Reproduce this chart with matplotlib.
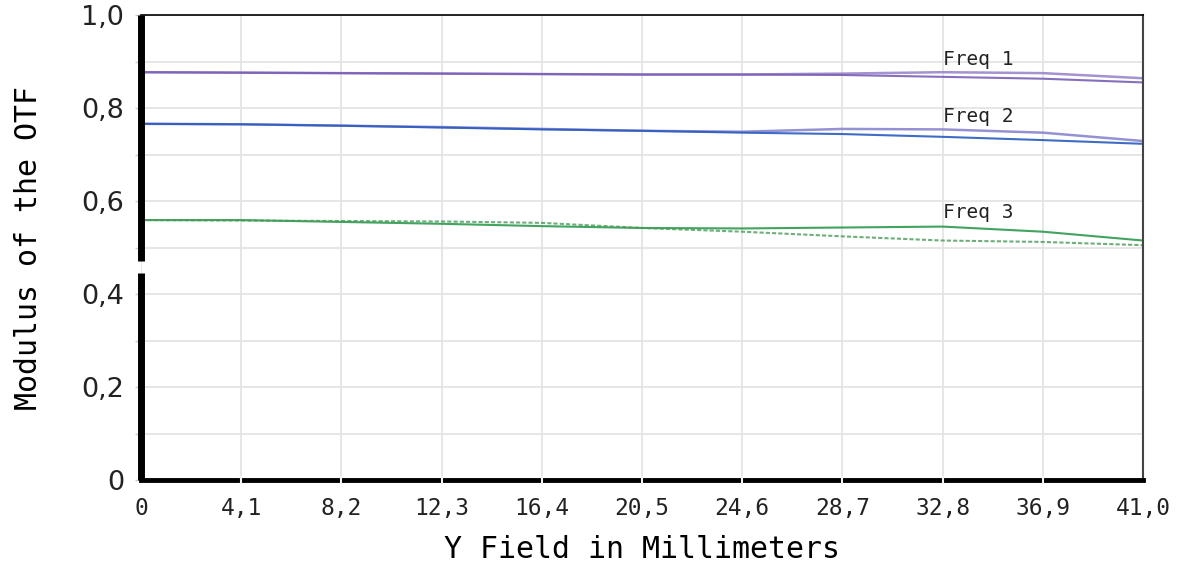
import numpy as np
import matplotlib.pyplot as plt

# field positions (mm)
field = [0, 4.1, 8.2, 12.3, 16.4, 20.5, 24.6, 28.7, 32.8, 36.9, 41.0]

# Freq 1
f1_a = [0.877, 0.876, 0.875, 0.874, 0.873, 0.872, 0.872, 0.874, 0.877, 0.875, 0.864]
f1_b = [0.877, 0.876, 0.875, 0.874, 0.873, 0.872, 0.872, 0.871, 0.867, 0.863, 0.855]
# Freq 2
f2_a = [0.766, 0.765, 0.762, 0.759, 0.755, 0.751, 0.749, 0.755, 0.754, 0.747, 0.729]
f2_b = [0.766, 0.765, 0.762, 0.758, 0.754, 0.751, 0.747, 0.744, 0.738, 0.731, 0.723]
# Freq 3
f3_solid = [0.559, 0.559, 0.555, 0.551, 0.546, 0.542, 0.541, 0.543, 0.545, 0.534, 0.515]
f3_dot = [0.559, 0.558, 0.557, 0.556, 0.553, 0.542, 0.534, 0.524, 0.515, 0.512, 0.505]

xticks = [0, 4.1, 8.2, 12.3, 16.4, 20.5, 24.6, 28.7, 32.8, 36.9, 41.0]
xticklabels = ['0', '4,1', '8,2', '12,3', '16,4', '20,5', '24,6', '28,7', '32,8', '36,9', '41,0']
yticks = [0, 0.2, 0.4, 0.6, 0.8, 1.0]
yticklabels = ['0', '0,2', '0,4', '0,6', '0,8', '1,0']

fig = plt.figure(figsize=(11.82, 5.64), dpi=100)
ax = fig.add_axes([0.1193, 0.1489, 0.967 - 0.1193, 0.9734 - 0.1489])

ax.plot(field, f1_a, color='#9a86cc', lw=1.8, alpha=0.9)
ax.plot(field, f1_b, color='#7a5fb6', lw=1.5, alpha=0.9)
ax.plot(field, f2_a, color='#8a86d0', lw=1.8, alpha=0.9)
ax.plot(field, f2_b, color='#2a5cbf', lw=1.5, alpha=0.9)
ax.plot(field, f3_solid, color='#1f9444', lw=1.5, alpha=0.85)
ax.plot(field, f3_dot, color='#4a9a5a', lw=1.5, alpha=0.8, ls=(0, (2, 1)))

mono = 'DejaVu Sans Mono'
ax.text(32.8, 0.905, 'Freq 1', fontsize=14, family=mono, color='#222222', va='center')
ax.text(32.8, 0.781, 'Freq 2', fontsize=14, family=mono, color='#222222', va='center')
ax.text(32.8, 0.576, 'Freq 3', fontsize=14, family=mono, color='#222222', va='center')

ax.set_xlim(0, 41.0)
ax.set_ylim(0, 1.0)
ax.set_xticks(xticks)
ax.set_xticklabels(xticklabels, family=mono, fontsize=16.5, color='#222222')
ax.set_yticks(yticks)
ax.set_yticks(np.arange(0.1, 1.0, 0.2), minor=True)
ax.set_yticklabels(yticklabels, fontsize=19.5, color='#222222')
ax.tick_params(axis='x', length=0, pad=12)
ax.tick_params(axis='y', which='both', length=4, width=1, color='#cccccc', pad=8)

ax.grid(True, which='both', color='#e2e2e2', lw=1.2)
ax.set_axisbelow(True)

ax.set_xlabel('Y Field in Millimeters', family=mono, fontsize=21.5, labelpad=11)
ax.set_ylabel('Modulus of the OTF', family=mono, fontsize=21.5, labelpad=28)

ax.spines['top'].set_linewidth(1.2)
ax.spines['right'].set_linewidth(1.5)
ax.spines['right'].set_color('#444444')
ax.spines['bottom'].set_linewidth(3.5)
ax.spines['left'].set_visible(False)

# left axis drawn in two pieces with a break
ytr = ax.get_yaxis_transform()
ax.plot([0, 0], [0, 0.445], color='black', lw=5, transform=ytr, clip_on=False, solid_capstyle='butt')
ax.plot([0, 0], [0.47, 1.0], color='black', lw=5, transform=ytr, clip_on=False, solid_capstyle='butt')

# small gaps in the bottom axis at the grid positions
xtr = ax.get_xaxis_transform()
for xt in xticks[1:-1]:
    ax.plot([xt, xt], [-0.006, 0.006], color='#f2f2f2', lw=1.5, transform=xtr, clip_on=False, zorder=5)

fig.savefig('out.png', dpi=100)
